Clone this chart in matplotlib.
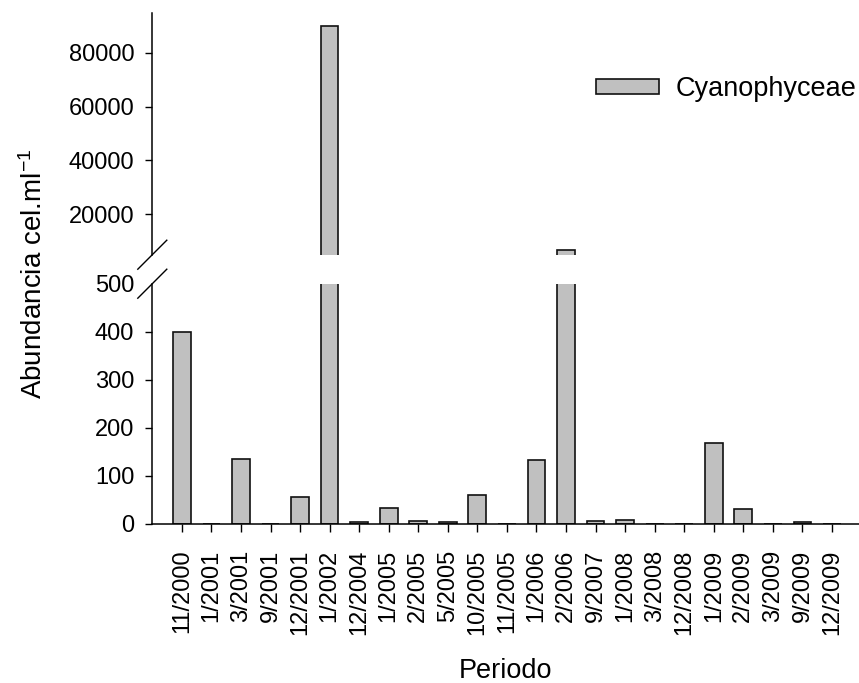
import numpy as np
import matplotlib
matplotlib.use("Agg")
import matplotlib.pyplot as plt
from matplotlib.lines import Line2D

plt.rcParams["font.family"] = ["Liberation Sans", "DejaVu Sans"]
plt.rcParams["mathtext.fontset"] = "custom"
plt.rcParams["mathtext.rm"] = "Liberation Sans"
plt.rcParams["mathtext.default"] = "regular"

periodos = ["11/2000", "1/2001", "3/2001", "9/2001", "12/2001", "1/2002",
            "12/2004", "1/2005", "2/2005", "5/2005", "10/2005", "11/2005",
            "1/2006", "2/2006", "9/2007", "1/2008", "3/2008", "12/2008",
            "1/2009", "2/2009", "3/2009", "9/2009", "12/2009"]
cyanophyceae = [400, 0, 135, 0, 57, 90000,
                5, 34, 6, 4, 60, 0,
                133, 6500, 6, 8, 0, 0,
                168, 31, 0, 4, 0]

low_ticks = [0, 100, 200, 300, 400, 500]
high_ticks = [20000, 40000, 60000, 80000]

W, H = 859, 683
fig = plt.figure(figsize=(W / 100, H / 100), dpi=100)

left = 152.3 / W
width = 709.2 / W
ax_hi = fig.add_axes([left, (H - 254.5) / H, width, 242.0 / H])
ax_lo = fig.add_axes([left, (H - 524.0) / H, width, 240.0 / H])

x = np.arange(len(periodos))
bar_kw = dict(width=0.6, color="#c0c0c0", edgecolor="#111111", linewidth=1.2)
ax_hi.bar(x, cyanophyceae, label="Cyanophyceae", **bar_kw)
ax_lo.bar(x, cyanophyceae, **bar_kw)

for ax in (ax_hi, ax_lo):
    ax.set_xlim(-1, 23)
    ax.spines["top"].set_visible(False)
    ax.spines["right"].set_visible(False)
    ax.spines["left"].set_linewidth(1.1)
    ax.spines["bottom"].set_linewidth(1.1)
    ax.tick_params(axis="y", direction="out", length=5, width=1.0,
                   labelsize=17, pad=8)

ax_hi.set_ylim(5000, 95000)
ax_hi.set_yticks(high_ticks)
ax_hi.spines["bottom"].set_visible(False)
ax_hi.tick_params(axis="x", bottom=False, labelbottom=False)

ax_lo.set_ylim(0, 500)
ax_lo.set_yticks(low_ticks)
ax_lo.yaxis.get_major_ticks()[-1].tick1line.set_visible(False)
ax_lo.set_xticks(x)
ax_lo.set_xticklabels(periodos, rotation=90)
ax_lo.tick_params(axis="x", direction="out", length=5.5, width=1.0,
                  labelsize=17, pad=13)

# diagonal marks where the y axis is broken
dx, dy = 14.5 / W, 14.5 / H
for y0 in ((H - 254.7) / H, (H - 283.7) / H):
    fig.add_artist(Line2D([left - dx, left + dx], [y0 - dy, y0 + dy],
                          color="black", linewidth=1.0,
                          transform=fig.transFigure, clip_on=False))

fig.text((152.3 + 859) / 2 / W, 4.5 / H, "Periodo", ha="center",
         va="baseline", fontsize=19.5)
fig.text(34 / W, (H - 274) / H, "Abundancia cel.ml$^{-1}$", rotation=90,
         ha="center", va="center", fontsize=20)

ax_hi.legend(loc="center left", bbox_to_anchor=(596 / W, (H - 89) / H),
             bbox_transform=fig.transFigure, frameon=False, fontsize=19.5,
             borderpad=0, borderaxespad=0, handlelength=2.33,
             handleheight=0.52, handletextpad=0.6)

fig.savefig("out.png", dpi=100)
